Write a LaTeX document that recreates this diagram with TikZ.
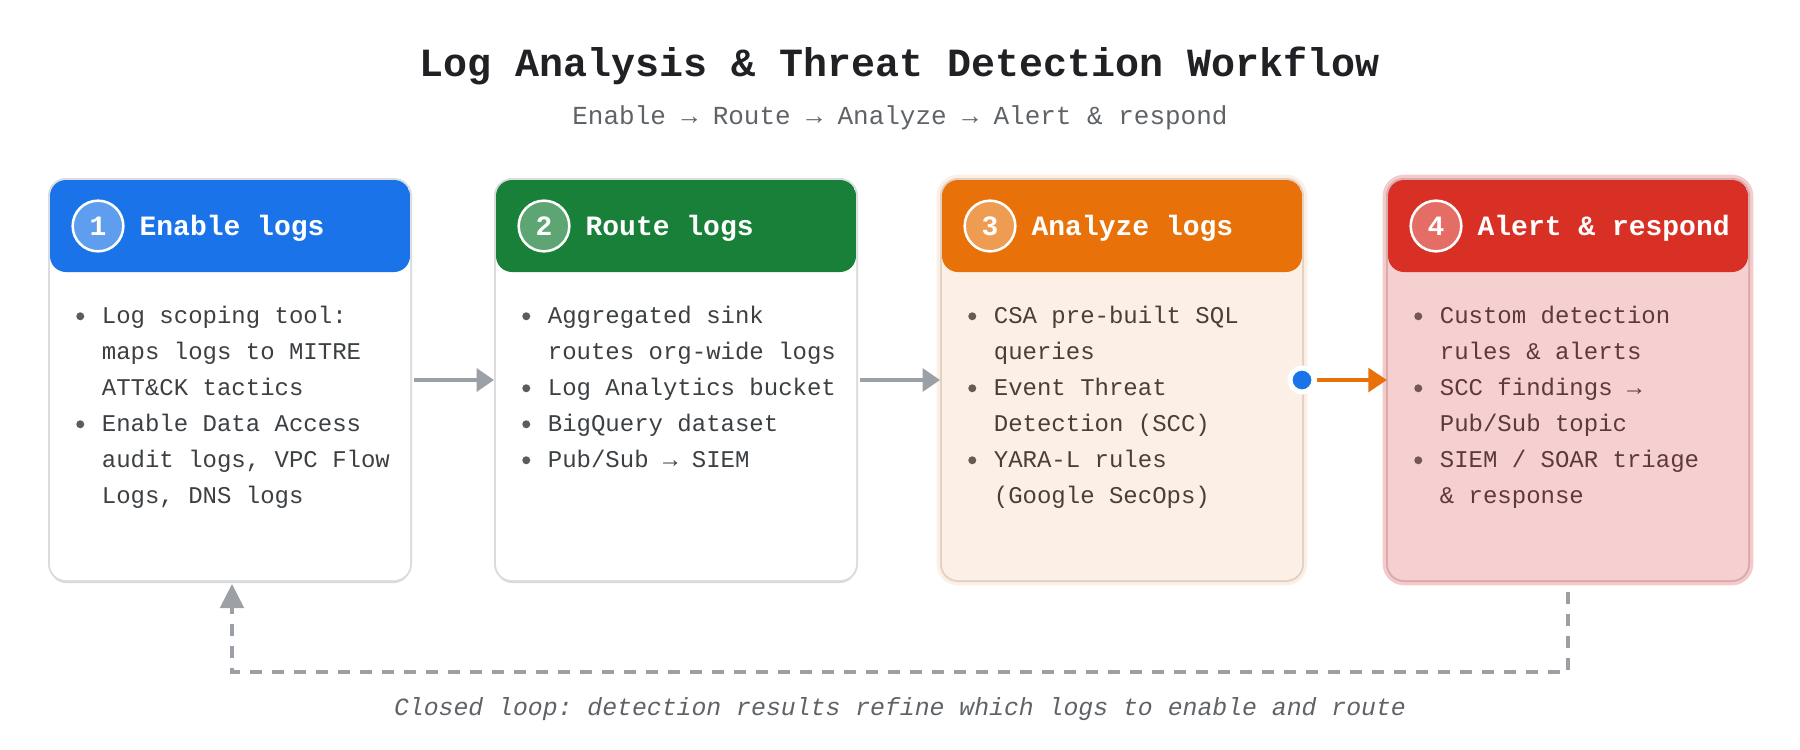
\documentclass[tikz,border=0pt]{standalone}
\usepackage{fontspec}
\setmonofont{Liberation Mono}
\usepackage{tikz}
\usetikzlibrary{arrows.meta,positioning,shadows}

\definecolor{ink}{HTML}{202124}
\definecolor{inkSoft}{HTML}{5F6368}
\definecolor{bodyInk}{HTML}{3C4043}
\definecolor{lineGray}{HTML}{9AA0A6}
\definecolor{edgeGray}{HTML}{DADCE0}
\definecolor{shadeGray}{HTML}{D6D8DC}
\definecolor{gBlue}{HTML}{1A73E8}
\definecolor{gGreen}{HTML}{188038}
\definecolor{gOrange}{HTML}{E8710A}
\definecolor{gRed}{HTML}{D93025}
\definecolor{peach}{HTML}{FCF0E6}
\definecolor{peachEdge}{HTML}{E0D2C6}
\definecolor{peachHalo}{HTML}{FDEFE3}
\definecolor{peachInk}{HTML}{4A3F38}
\definecolor{rose}{HTML}{F6D0D0}
\definecolor{roseEdge}{HTML}{D9ACAC}
\definecolor{roseHalo}{HTML}{F5CACA}
\definecolor{roseInk}{HTML}{5C3A3A}

\newcommand\bul{\strut\makebox[1.2em][l]{\hspace{2.4pt}\textcolor{.!85!white}{%
  \tikz[baseline=0pt,x=1pt,y=1pt]\fill (0,5.25) circle[radius=3];}}}
\newcommand\ind{\strut\hspace*{1.2em}}

\tikzset{
  card/.style={rectangle,rounded corners=12pt,minimum width=270pt,minimum height=300pt,
    inner sep=0pt,outer sep=0pt,fill=white,
    drop shadow={shadow xshift=0pt,shadow yshift=-2.25pt,opacity=1,fill=shadeGray},
    edge=edgeGray,
    path picture={\fill[#1] (path picture bounding box.north west)
      rectangle ([yshift=-69pt]path picture bounding box.north east);}},
  edge/.style={preaction={draw=#1,line width=3pt}},
  halo/.style={preaction={draw=#1,line width=8pt}},
  num/.style={circle,minimum size=38pt,inner sep=0pt,fill=#1!70!white,draw=white,
    line width=1.9pt,text=white,font=\ttfamily\bfseries\fontsize{21pt}{21pt}\selectfont},
  headtext/.style={anchor=base west,inner sep=0pt,text=white,
    font=\ttfamily\bfseries\fontsize{21pt}{25pt}\selectfont},
  list/.style={anchor=north west,align=left,inner sep=0pt,
    font=\ttfamily\frenchspacing\fontsize{18pt}{27pt}\selectfont},
  flow/.style={draw=lineGray,line width=3pt,-{Triangle[length=13pt,width=17pt]},
    shorten <=3pt,shorten >=1.5pt},
  hot/.style={draw=gOrange,line width=3.5pt,-{Triangle[length=14pt,width=17.5pt]},
    shorten >=0.75pt},
  back/.style={draw=lineGray,line width=3pt,dash pattern=on 9pt off 7.5pt,
    -{Triangle[length=18pt,width=17.5pt]},shorten <=9pt,shorten >=3pt}
}

\begin{document}
\begin{tikzpicture}[x=0.75pt,y=-0.75pt,font=\ttfamily\frenchspacing]
  \useasboundingbox (0,0) rectangle (1800,750);

  % title lines
  \node[anchor=base,text=ink,font=\ttfamily\bfseries\fontsize{30pt}{36pt}\selectfont] (title) at (900,76)
    {Log Analysis \& Threat Detection Workflow};
  \node[anchor=base,text=inkSoft,font=\ttfamily\fontsize{19.5pt}{24pt}\selectfont] (subtitle) at (900,124)
    {Enable → Route → Analyze → Alert \& respond};

  % the four stages
  \node[card=gBlue]                                            (enable)  at (230,380) {};
  \node[card=gGreen, right=64.5pt of enable]                   (route)   {};
  \node[card=gOrange, fill=peach, halo=peachHalo, edge=peachEdge, right=64.5pt of route]   (analyze) {};
  \node[card=gRed, fill=rose, halo=roseHalo, edge=roseEdge, right=64.5pt of analyze]       (alert)   {};

  \node[num=gBlue]   (enableNum)  at ([xshift=36pt,yshift=-34.5pt]enable.north west)  {1};
  \node[num=gGreen]  (routeNum)   at ([xshift=36pt,yshift=-34.5pt]route.north west)   {2};
  \node[num=gOrange] (analyzeNum) at ([xshift=36pt,yshift=-34.5pt]analyze.north west) {3};
  \node[num=gRed]    (alertNum)   at ([xshift=36pt,yshift=-34.5pt]alert.north west)   {4};

  \node[headtext] (enableHead)  at ([xshift=67pt,yshift=-41.6pt]enable.north west)  {Enable logs};
  \node[headtext] (routeHead)   at ([xshift=67pt,yshift=-41.6pt]route.north west)   {Route logs};
  \node[headtext] (analyzeHead) at ([xshift=67pt,yshift=-41.6pt]analyze.north west) {Analyze logs};
  \node[headtext] (alertHead)   at ([xshift=67pt,yshift=-41.6pt]alert.north west)   {Alert \& respond};

  \node[list,text=bodyInk] (enableList) at ([xshift=17.1pt,yshift=-88.35pt]enable.north west)
    {\bul Log scoping tool:\\ \ind maps logs to MITRE\\ \ind ATT\&CK tactics\\
     \bul Enable Data Access\\ \ind audit logs, VPC Flow\\ \ind Logs, DNS logs};
  \node[list,text=bodyInk] (routeList) at ([xshift=17.1pt,yshift=-88.35pt]route.north west)
    {\bul Aggregated sink\\ \ind routes org-wide logs\\ \bul Log Analytics bucket\\
     \bul BigQuery dataset\\ \bul Pub/Sub → SIEM};
  \node[list,text=peachInk] (analyzeList) at ([xshift=17.1pt,yshift=-88.35pt]analyze.north west)
    {\bul CSA pre-built SQL\\ \ind queries\\ \bul Event Threat\\ \ind Detection (SCC)\\
     \bul YARA-L rules\\ \ind (Google SecOps)};
  \node[list,text=roseInk] (alertList) at ([xshift=17.1pt,yshift=-88.35pt]alert.north west)
    {\bul Custom detection\\ \ind rules \& alerts\\ \bul SCC findings →\\ \ind Pub/Sub topic\\
     \bul SIEM / SOAR triage\\ \ind \& response};

  % connectors
  \draw[flow] (enable) -- (route);
  \draw[flow] (route) -- (analyze);
  \node[circle,minimum size=18pt,inner sep=0pt,fill=gBlue,draw=white,line width=3.75pt] (tap) at (analyze.east) {};
  \draw[hot] (tap) -- (alert);
  \draw[back] (alert.south) -- ++(0,92) -| ([xshift=1.5pt]enable.south);

  \node[anchor=base,text=inkSoft,font=\ttfamily\itshape\fontsize{18.6pt}{22pt}\selectfont] (loopNote) at (900,715)
    {Closed loop: detection results refine which logs to enable and route};
\end{tikzpicture}
\end{document}
